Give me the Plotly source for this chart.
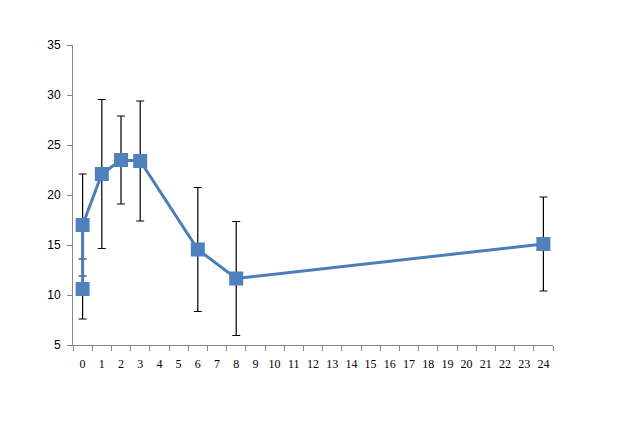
import plotly.graph_objects as go

hours = [0, 0, 1, 2, 3, 6, 8, 24]
values = [10.6, 17.0, 22.1, 23.5, 23.4, 14.55, 11.65, 15.1]
errors = [3.0, 5.1, 7.45, 4.4, 6.0, 6.2, 5.7, 4.7]
tick_labels = [str(i) for i in range(25)]
tick_positions = list(range(25))

fig = go.Figure()
fig.add_trace(go.Scatter(
    x=hours, y=values, mode="lines+markers",
    line=dict(color="#4A7EBB", width=3),
    marker=dict(symbol="square", size=14, color="#4F81BD"),
    error_y=dict(type="data", array=errors, visible=True, color="black", thickness=1.2, width=4),
    showlegend=False,
))

fig.update_layout(
    width=625, height=432,
    margin=dict(l=65, r=80, t=37, b=95),
    paper_bgcolor="white", plot_bgcolor="white",
    font=dict(family="Liberation Serif", size=12, color="black"),
    xaxis=dict(
        range=[-0.5, 24.5], tickmode="array", tickvals=tick_positions, ticktext=tick_labels,
        ticks="", showgrid=False, zeroline=False, showline=True, linecolor="#868686", linewidth=1,
        minor=dict(tickmode="array", tickvals=[i - 0.5 for i in range(26)], ticks="outside",
                   ticklen=5, tickcolor="#868686", showgrid=False),
        tickfont=dict(family="Liberation Serif", size=12),
        ticklabelstandoff=8,
    ),
    yaxis=dict(
        range=[5, 35], tickmode="linear", tick0=5, dtick=5,
        ticks="outside", ticklen=5, tickcolor="#868686",
        tickfont=dict(family="Liberation Sans", size=12),
        ticklabelstandoff=4,
        showgrid=False, zeroline=False, showline=True, linecolor="#868686", linewidth=1,
    ),
)

fig.write_html("out.html")
